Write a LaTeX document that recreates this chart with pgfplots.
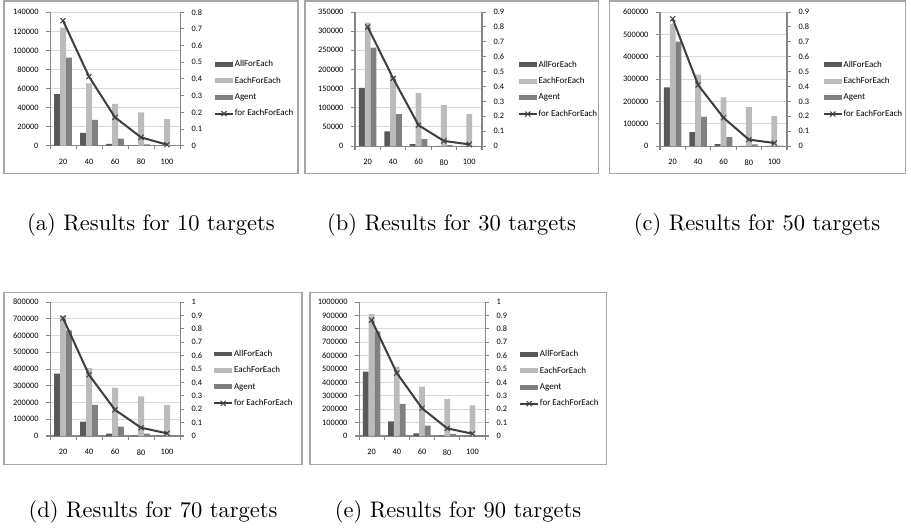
\documentclass[border=0pt]{standalone}
\usepackage{fontspec}
\usepackage{pgfplots}
\usepackage{pgfplotstable}
\pgfplotsset{compat=1.18}
\newfontfamily\chartfont{Carlito}
\newcommand\tickfont{\chartfont\fontsize{3.7}{4.2}\selectfont}
\newcommand\legfont{\chartfont\fontsize{4}{4.6}\selectfont}
\definecolor{cA}{HTML}{595959}
\definecolor{cB}{HTML}{BBBBBB}
\definecolor{cC}{HTML}{808080}
\definecolor{cL}{HTML}{3F3F3F}
\definecolor{gridc}{HTML}{D9D9D9}
\definecolor{axisc}{HTML}{868686}
\definecolor{boxc}{HTML}{A6A6A6}

\pgfplotstableread{
x all each agent line
0 54000 124000 92500 0.75
1 13500 65500 27000 0.414
2 2000 44000 7500 0.17
3 400 35000 1400 0.05
4 200 28000 300 0.006
}\dataA
\pgfplotstableread{
x all each agent line
0 152000 322000 257000 0.80
1 38000 182000 83000 0.455
2 5000 138000 18000 0.14
3 600 107000 2600 0.034
4 200 83000 500 0.011
}\dataB
\pgfplotstableread{
x all each agent line
0 263000 548000 467000 0.855
1 62000 320000 130000 0.41
2 9000 218000 40000 0.19
3 1000 174000 7500 0.043
4 300 134000 1500 0.02
}\dataC
\pgfplotstableread{
x all each agent line
0 373000 718000 630000 0.88
1 86000 405000 186000 0.456
2 14000 289000 56000 0.195
3 3000 237000 14000 0.062
4 500 185500 3000 0.02
}\dataD
\pgfplotstableread{
x all each agent line
0 480000 910000 780000 0.865
1 110000 515000 240000 0.47
2 20000 369000 77000 0.207
3 3000 277000 15000 0.057
4 1000 229000 3000 0.017
}\dataE

\pgfplotsset{
  barlegend/.style={legend image code/.code={\fill[##1] (0pt,-1.1pt) rectangle (7.9pt,1.1pt);}},
  linelegend/.style={legend image code/.code={\draw[mark repeat=2,mark phase=2,##1] plot coordinates {(0pt,0pt) (3.95pt,0pt) (7.9pt,0pt)};}},
  lineplot/.style={color=cL, line width=0.9pt, mark=x, mark size=1.6pt, mark options={line width=0.45pt, solid}},
  common/.style={
    scale only axis, anchor=south west,
    xmin=-0.5, xmax=4.5, ymin=0,
    /pgf/number format/assume math mode=true,
    tick label style={font=\tickfont, text=black},
    tick align=outside, major tick length=1.6pt,
    tick style={draw=axisc, line width=0.45pt},
    every outer x axis line/.append style={-, draw=axisc, line width=0.45pt},
    every outer y axis line/.append style={-, draw=axisc, line width=0.45pt},
    axis line style={-, draw=axisc, line width=0.45pt},
  },
  baraxis/.style={
    common,
    axis x line*=bottom, axis y line*=left,
    xtick={-0.5,0.5,...,4.5}, xticklabels={,,,,,},
    extra x ticks={0,1,2,3,4}, extra x tick labels={20,40,60,80,100},
    extra x tick style={major tick length=0pt, tick label style={yshift=-2.4pt}},
    ymajorgrids, grid style={draw=gridc, line width=0.45pt},
    scaled y ticks=false,
    yticklabel style={/pgf/number format/fixed, /pgf/number format/1000 sep={}},
    legend cell align=left,
    legend style={anchor=west, draw=none, fill=none, inner sep=0pt, outer sep=0pt,
      font=\legfont, row sep=3.55pt, column sep=0.4pt,
      nodes={inner sep=0pt, text height=2.9pt, text depth=0.85pt}},
  },
  lineaxis/.style={
    common, clip=false,
    axis x line=none, axis y line*=right,
    yticklabel style={/pgf/number format/fixed, /pgf/number format/precision=1},
  },
}

% #1 L, #2 B, #3 W, #4 H, #5 table, #6 ymax, #7 ystep, #8 rmax, #9 legend pos
\newcommand\panel[9]{%
\begin{axis}[baraxis, at={(#1pt,#2pt)}, width=#3pt, height=#4pt, ymax=#6, ytick distance=#7, legend style={at={#9}}]
\addplot[ybar, bar width=0.23, bar shift=-0.23, fill=cA, draw=none, barlegend] table[x=x,y=all]{#5};
\addlegendentry{AllForEach}
\addplot[ybar, bar width=0.23, bar shift=0, fill=cB, draw=none, barlegend] table[x=x,y=each]{#5};
\addlegendentry{EachForEach}
\addplot[ybar, bar width=0.23, bar shift=0.23, fill=cC, draw=none, barlegend] table[x=x,y=agent]{#5};
\addlegendentry{Agent}
\addlegendimage{lineplot, linelegend}
\addlegendentry{for EachForEach}
\end{axis}
\begin{axis}[lineaxis, at={(#1pt,#2pt)}, width=#3pt, height=#4pt, ymax=#8, ytick={0,0.1,...,#8}]
\addplot[lineplot] table[x=x,y=line]{#5};
\end{axis}}

\begin{document}
\begin{tikzpicture}
\path[use as bounding box] (0,0) rectangle (404.94pt,-236.03pt);
\begin{scope}[x=0.4445pt, y=-0.4445pt]
\draw[boxc, line width=0.45pt] (4,1) rectangle (298,173);
\draw[boxc, line width=0.45pt] (305,1) rectangle (598,173);
\draw[boxc, line width=0.45pt] (609,1) rectangle (905,173);
\draw[boxc, line width=0.45pt] (4,292) rectangle (302,464);
\draw[boxc, line width=0.45pt] (310,292) rectangle (606,464);
\node[anchor=base] at (151,230) {(a) Results for 10 targets};
\node[anchor=base] at (451.5,230) {(b) Results for 30 targets};
\node[anchor=base] at (757,230) {(c) Results for 50 targets};
\node[anchor=base] at (153,517) {(d) Results for 70 targets};
\node[anchor=base] at (458,517) {(e) Results for 90 targets};
\end{scope}
\panel{22.23}{-64.76}{57.79}{59.30}{\dataA}{140000}{20000}{0.8}{(1.262,0.425)}
\panel{157.80}{-64.90}{56.45}{59.56}{\dataB}{350000}{50000}{0.9}{(1.283,0.422)}
\panel{293.37}{-64.90}{56.45}{59.56}{\dataC}{600000}{100000}{0.9}{(1.283,0.422)}
\panel{22.23}{-193.80}{57.79}{59.56}{\dataD}{800000}{100000}{1}{(1.256,0.428)}
\panel{159.58}{-193.80}{56.01}{59.56}{\dataE}{1000000}{100000}{1}{(1.272,0.425)}
\end{tikzpicture}
\end{document}
